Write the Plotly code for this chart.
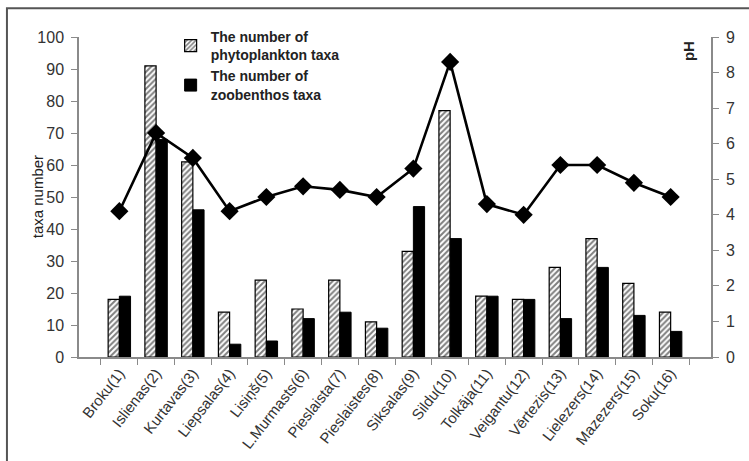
import plotly.graph_objects as go

# Lakes / sampling sites
sites = ["Broku(1)", "Islienas(2)", "Kurtavas(3)", "Liepsalas(4)", "Lisiņš(5)",
         "L.Murmasts(6)", "Pieslaista(7)", "Pieslaistes(8)", "Siksalas(9)",
         "Sildu(10)", "Tolkāja(11)", "Veigantu(12)", "Vērtezis(13)",
         "Lielezers(14)", "Mazezers(15)", "Soku(16)"]

# Taxa counts
phyto_taxa = [18, 91, 61, 14, 24, 15, 24, 11, 33, 77, 19, 18, 28, 37, 23, 14]
zoo_taxa = [19, 68, 46, 4, 5, 12, 14, 9, 47, 37, 19, 18, 12, 28, 13, 8]

# Water pH
ph_values = [4.1, 6.3, 5.6, 4.1, 4.5, 4.8, 4.7, 4.5, 5.3, 8.3, 4.3, 4.0, 5.4, 5.4, 4.9, 4.5]

left_ticks = list(range(0, 101, 10))
right_ticks = list(range(0, 10))

FONT = "Liberation Sans, Arial, sans-serif"
AXIS_GREY = "#8a8a8a"
TEXT = "#333333"

fig = go.Figure()

fig.add_trace(go.Bar(
    x=sites, y=phyto_taxa, name="<b>The number of<br>phytoplankton taxa</b>",
    marker=dict(color="white",
                pattern=dict(shape="/", fgcolor="black", bgcolor="white",
                             size=4, solidity=0.5),
                line=dict(color="black", width=1.2)),
    yaxis="y",
))
fig.add_trace(go.Bar(
    x=sites, y=zoo_taxa, name="<b>The number of<br>zoobenthos taxa</b>",
    marker=dict(color="black", line=dict(color="black", width=1)),
    yaxis="y",
))
fig.add_trace(go.Scatter(
    x=sites, y=ph_values, mode="lines+markers", showlegend=False,
    line=dict(color="black", width=2.6),
    marker=dict(symbol="diamond", size=14, color="black"),
    yaxis="y2",
))

fig.update_layout(
    width=749, height=461,
    margin=dict(l=79, r=38, t=37, b=104),
    paper_bgcolor="white", plot_bgcolor="white",
    font=dict(family=FONT, color=TEXT),
    barmode="group", bargap=0.39, bargroupgap=0,
    showlegend=True,
    legend=dict(x=0.145, y=1.05, xanchor="left", yanchor="top",
                bgcolor="rgba(0,0,0,0)", tracegroupgap=4,
                font=dict(family=FONT, size=14, color="#222"),
                itemwidth=30),
    xaxis=dict(
        type="category", categoryorder="array", categoryarray=sites,
        showline=True, linecolor=AXIS_GREY, linewidth=1.5,
        ticks="outside", tickson="boundaries", ticklen=6,
        tickcolor=AXIS_GREY, tickwidth=1.2,
        tickangle=-52, automargin=False,
        tickfont=dict(size=15, color=TEXT),
        showgrid=False, zeroline=False,
    ),
    yaxis=dict(
        range=[0, 100], tickmode="array", tickvals=left_ticks,
        showline=True, linecolor=AXIS_GREY, linewidth=1.5,
        ticks="outside", ticklen=6, tickcolor=AXIS_GREY, tickwidth=1.2,
        tickfont=dict(size=16, color=TEXT), ticklabelstandoff=4,
        showgrid=False, zeroline=False, automargin=False,
    ),
    yaxis3=dict(
        overlaying="y", range=[0, 100], tickmode="array", tickvals=left_ticks,
        ticks="inside", ticklen=6, tickcolor=AXIS_GREY, tickwidth=1.2,
        showticklabels=False, showline=False, showgrid=False, zeroline=False,
        anchor="x",
    ),
    yaxis2=dict(
        overlaying="y", side="right", range=[0, 9],
        tickmode="array", tickvals=right_ticks,
        showline=True, linecolor=AXIS_GREY, linewidth=1.5,
        ticks="outside", ticklen=6, tickcolor=AXIS_GREY, tickwidth=1.2,
        tickfont=dict(size=16, color=TEXT), ticklabelstandoff=4,
        showgrid=False, zeroline=False, anchor="x", automargin=False,
    ),
    yaxis4=dict(
        overlaying="y", side="right", range=[0, 9],
        tickmode="array", tickvals=right_ticks,
        ticks="inside", ticklen=6, tickcolor=AXIS_GREY, tickwidth=1.2,
        showticklabels=False, showline=False, showgrid=False, zeroline=False,
        anchor="x",
    ),
)

# Axis titles
fig.add_annotation(
    xref="paper", yref="paper", x=-0.066, y=0.5, text="taxa number",
    textangle=-90, showarrow=False, xanchor="center", yanchor="middle",
    font=dict(family=FONT, size=15, color="#222"),
)
fig.add_annotation(
    xref="paper", yref="paper", x=0.9636, y=0.956, text="<b>pH</b>",
    textangle=-90, showarrow=False, xanchor="center", yanchor="middle",
    font=dict(family=FONT, size=15, color="#222"),
)

# Outer frame (top and left edges)
fig.add_shape(
    type="rect", xref="paper", yref="paper",
    x0=-0.114, x1=1.2, y0=-0.5, y1=1.09,
    line=dict(color="#555555", width=2), fillcolor="rgba(0,0,0,0)", layer="above",
)

fig.write_html("out.html")
